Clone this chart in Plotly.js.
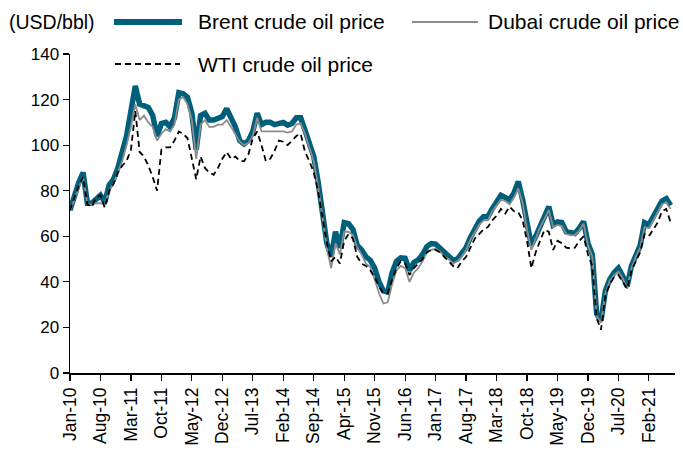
<!DOCTYPE html>
<html>
<head>
<meta charset="utf-8">
<script src="https://cdn.plot.ly/plotly-3.0.1.min.js"></script>
<style>html,body{margin:0;padding:0;background:#fff;}#chart{width:683px;height:456px;}</style>
</head>
<body>
<div id="chart"></div>
<script>
// Monthly categories Jan-10 .. Jul-21
const monthNames = ["Jan","Feb","Mar","Apr","May","Jun","Jul","Aug","Sep","Oct","Nov","Dec"];
const months = [];
for (let y = 10; y <= 21; y++) {
  for (let m = 0; m < 12; m++) {
    if (y === 21 && m > 6) break;
    months.push(monthNames[m] + "-" + y);
  }
}

const tickLabels = ["Jan-10","Aug-10","Mar-11","Oct-11","May-12","Dec-12","Jul-13","Feb-14","Sep-14","Apr-15",
  "Nov-15","Jun-16","Jan-17","Aug-17","Mar-18","Oct-18","May-19","Dec-19","Jul-20","Feb-21"];

const brent = [
  71.5,78,83.5,88,74.5,74.5,76,78,75,82.5,85,90,
  97,104,115,126,118,117,116.5,113,104,109.5,110,108,
  112,123,122.5,121,114,98,113,114,111,111,111.5,112.5,
  116,112.5,108,102,100.5,102,106,114,109,110,110,109,
  109.5,110,108.8,109.5,112,112,106.5,101,95,84,70,57,
  51,62,55,66,65.5,63,56,54,51,49.5,46,40,
  36,35.5,44,49,50.5,50.3,45,48.5,49.6,52,55.5,56.8,
  56.6,55,53,51.5,49.5,50,52.5,55,59.5,63.5,66.5,68.6,
  68.6,72,75,78,77,76,79,84,76,65,56,60,
  65,68.6,73,65,66.3,66,62,61.5,61.2,63.5,66.5,57,
  52,26,23,36,41,44,46,42.5,38,47,52,56,
  66,65,68.5,72,75.5,76.5,73.5
];

const dubai = [
  71,76,81,86,74,74,74.5,74.5,74,80,83,88,
  93,100,108,118,111,113,110,108,102,105,107,106,
  109,120,121,118,111,94,109,111,108,108,109,109,
  111,108,105,101.5,100,101,104,112,106,106,106,106,
  106,106,105.5,106,109,109.5,105,99,93,82,69,55,
  46,57,52,62,62,60.5,55,52,48,46.5,41,35,
  30.5,31,39,45,47,46,40,44,46,49,53,54,
  54.5,53.5,51,50,48,49,51,54,58.5,62,65,67,
  67,71,73.5,76,75.5,74,77,81,74.5,63,54,59,
  64,67.5,71.5,64,65,64.5,61,60.5,60.5,62.5,65.5,56,
  51,25,22,35,40.5,43,44.5,41.5,37,46,51,55,
  64,63.5,67,70,74,75,72
];

const wti = [
  71.5,77,82,86,74,73,77,78,72.5,80,83,88,
  91,93,98,115,97,95,91,86,80,98,99,99,
  102,106,105,103,94,85,95,90,88,87,90,94,
  97,94,95,93,93,96,103,106,100,93,94,97.5,
  102,101.5,100,102,104,105,97,93,88,80,68,57,
  49,51,48,58,61,59,51,48,47,45,42,38,
  35,35,41,46,49,48,43,46,48,50,53,54,
  54,53,51,49,47,46,49,51,55,59,61,63,
  64,67,69,72,70,73,71,70.5,67,58,46,53,
  58,62.7,62,54,58,57,55,54.7,55,58,60,52,
  47,24,19,34,39,42,43,40,37,45,49,53,
  61,60,63,66,71,72,66
];

const brentColor = "rgb(0,95,122)";
const dubaiColor = "rgb(140,140,140)";
const wtiColor = "#000000";
const font = "Liberation Sans, Arial, sans-serif";

const traces = [
  {x: months, y: brent, type: "scatter", mode: "lines", name: "Brent crude oil price",
   line: {color: brentColor, width: 5.5}},
  {x: months, y: dubai, type: "scatter", mode: "lines", name: "Dubai crude oil price",
   line: {color: dubaiColor, width: 1.8}},
  {x: months, y: wti, type: "scatter", mode: "lines", name: "WTI crude oil price",
   line: {color: wtiColor, width: 1.8, dash: "6px,4px"}}
];

// legend geometry in paper coords (plot area 70..675 x, 54..373 y)
const px = v => (v - 70) / 605;
const py = v => (373 - v) / 319;

const layout = {
  width: 683, height: 456,
  margin: {l: 70, r: 8, t: 54, b: 83},
  paper_bgcolor: "#fff", plot_bgcolor: "#fff",
  showlegend: false,
  font: {family: font, color: "#000", size: 17},
  xaxis: {
    type: "category", range: [0, 139],
    tickmode: "array", tickvals: tickLabels, ticktext: tickLabels,
    tickangle: -90, ticks: "outside", ticklen: 6, tickwidth: 1.2, tickcolor: "#000",
    showline: true, linecolor: "#000", linewidth: 1.5,
    showgrid: false, zeroline: false,
    tickfont: {family: font, size: 17.5, color: "#000"}
  },
  yaxis: {
    range: [0, 140], dtick: 20, tick0: 0,
    ticks: "outside", ticklen: 6, tickwidth: 1.2, tickcolor: "#000",
    showline: true, linecolor: "#000", linewidth: 1.5,
    showgrid: false, zeroline: false,
    tickfont: {family: font, size: 17, color: "#000"}
  },
  shapes: [
    {type: "line", xref: "paper", yref: "paper", x0: px(114), x1: px(182), y0: py(22), y1: py(22),
     line: {color: brentColor, width: 6}},
    {type: "line", xref: "paper", yref: "paper", x0: px(412), x1: px(478), y0: py(22), y1: py(22),
     line: {color: dubaiColor, width: 1.8}},
    {type: "line", xref: "paper", yref: "paper", x0: px(115), x1: px(180), y0: py(64), y1: py(64),
     line: {color: wtiColor, width: 1.8, dash: "6px,4px"}}
  ],
  annotations: [
    {text: "(USD/bbl)", xref: "paper", yref: "paper", x: px(7), y: py(22), xanchor: "left", yanchor: "middle",
     showarrow: false, font: {family: font, size: 19.5, color: "#000"}},
    {text: "Brent crude oil price", xref: "paper", yref: "paper", x: px(196), y: py(22), xanchor: "left", yanchor: "middle",
     showarrow: false, font: {family: font, size: 21, color: "#000"}},
    {text: "Dubai crude oil price", xref: "paper", yref: "paper", x: px(486), y: py(22), xanchor: "left", yanchor: "middle",
     showarrow: false, font: {family: font, size: 21, color: "#000"}},
    {text: "WTI crude oil price", xref: "paper", yref: "paper", x: px(196), y: py(64), xanchor: "left", yanchor: "middle",
     showarrow: false, font: {family: font, size: 21, color: "#000"}}
  ]
};

Plotly.newPlot("chart", traces, layout, {displayModeBar: false, staticPlot: true});
</script>
</body>
</html>
